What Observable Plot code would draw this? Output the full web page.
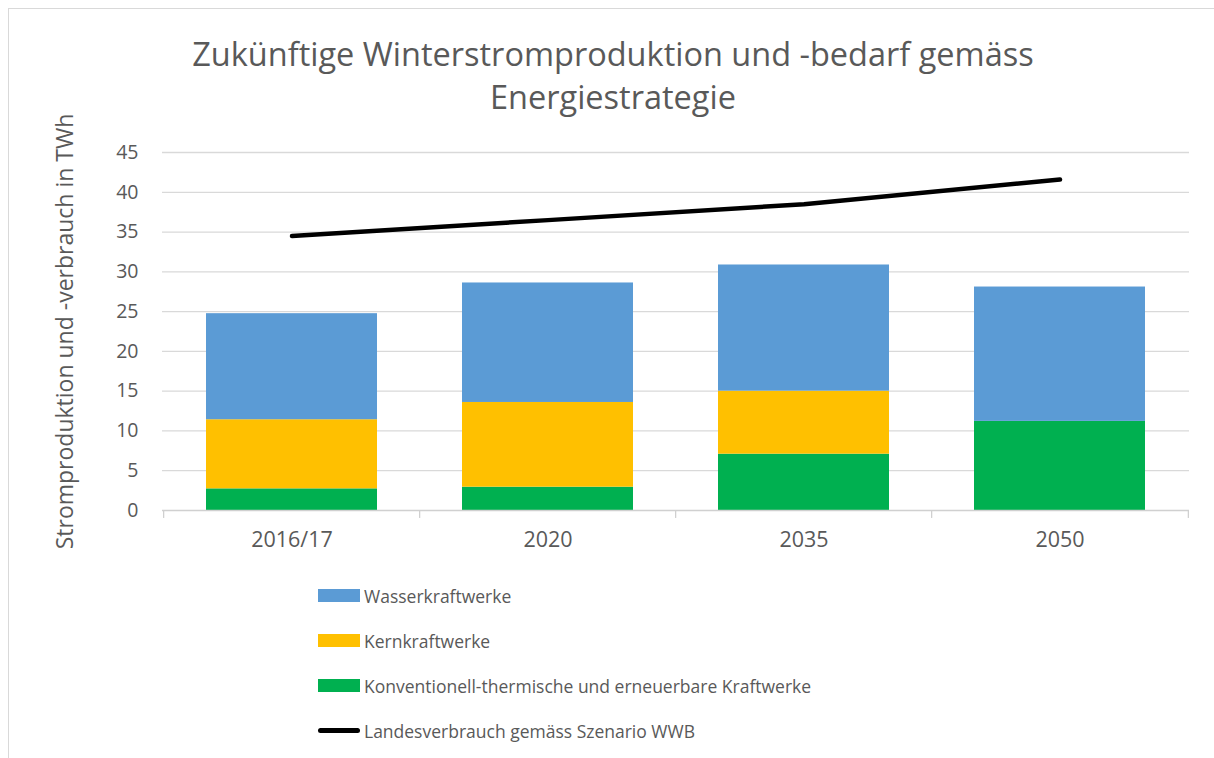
<!DOCTYPE html>
<html>
<head>
<meta charset="utf-8">
<script src="https://cdn.jsdelivr.net/npm/d3@7"></script>
<script src="https://cdn.jsdelivr.net/npm/@observablehq/plot@0.6"></script>
<style>
  html, body { margin: 0; padding: 0; background: #fff; }
  body { width: 1214px; height: 758px; position: relative; overflow: hidden; font-family: "Open Sans", sans-serif; color: #595959; }
  #frame { position: absolute; left: 8px; top: 8px; width: 1220px; height: 770px; border: 1.5px solid #d9d9d9; box-sizing: border-box; }
  #title { position: absolute; left: 0; width: 1226px; top: 32px; text-align: center; font-size: 32.5px; line-height: 43px; color: #595959; }
  #chart { position: absolute; left: 0; top: 130px; }
  #legend { position: absolute; left: 318px; top: 573px; }
  .row { display: flex; align-items: center; height: 45px; font-size: 17.5px; color: #595959; }
  .sw { width: 42px; height: 13px; margin-right: 4px; }
  .ln { width: 42px; height: 4.5px; border-radius: 3px; background: #000; margin-right: 4px; }
</style>
</head>
<body>
<div id="frame"></div>
<div id="title">Zukünftige Winterstromproduktion und -bedarf gemäss<br>Energiestrategie</div>
<div id="chart"></div>
<div id="legend"></div>
<script>
const categories = ["2016/17", "2020", "2035", "2050"];
const konventionell = [2.72, 2.93, 7.08, 11.2];
const kern = [8.69, 10.65, 7.92, 0];
const wasser = [13.33, 15.02, 15.86, 16.89];
const verbrauch = [34.5, 36.5, 38.5, 41.6];
const yTicks = [0, 5, 10, 15, 20, 25, 30, 35, 40, 45];
const yLabel = "Stromproduktion und -verbrauch in TWh";

const seriesNames = [
  "Konventionell-thermische und erneuerbare Kraftwerke",
  "Kernkraftwerke",
  "Wasserkraftwerke"
];
const seriesColors = ["#00B050", "#FFC000", "#5B9BD5"];
const seriesValues = [konventionell, kern, wasser];
const lineName = "Landesverbrauch gemäss Szenario WWB";

const barData = [];
seriesNames.forEach((s, i) => categories.forEach((c, j) => barData.push({cat: c, series: s, value: seriesValues[i][j]})));
const lineData = categories.map((c, j) => ({cat: c, value: verbrauch[j]}));

const W = 1214, H = 420, mL = 162, mR = 25, mT = 22, mB = 40;
const band = (W - mL - mR) / categories.length;

const chart = Plot.plot({
  width: W, height: H,
  marginLeft: mL, marginRight: mR, marginTop: mT, marginBottom: mB,
  style: {fontFamily: "Open Sans, sans-serif", fontSize: "19.5px", color: "#595959", background: "transparent", overflow: "visible"},
  x: {domain: categories, paddingInner: 0.333, paddingOuter: 0.1667, align: 0.5},
  y: {domain: [0, 45]},
  color: {domain: seriesNames, range: seriesColors},
  marks: [
    Plot.gridY(yTicks.filter(d => d > 0), {stroke: "#d9d9d9", strokeOpacity: 1, strokeWidth: 1.3}),
    Plot.barY(barData, {x: "cat", y: "value", fill: "series", order: seriesNames}),
    Plot.ruleY([0], {stroke: "#d0d0d0", strokeWidth: 1.3}),
    Plot.ruleX(categories, {x: d => d, y1: 0, y2: -1, dx: -band / 2, stroke: "#d0d0d0", strokeWidth: 1.3}),
    Plot.ruleX(categories.slice(-1), {x: d => d, y1: 0, y2: -1, dx: band / 2, stroke: "#d0d0d0", strokeWidth: 1.3}),
    Plot.line(lineData, {x: "cat", y: "value", stroke: "#000", strokeWidth: 4.5, strokeLinecap: "round", strokeLinejoin: "round"}),
    Plot.axisY({ticks: yTicks, tickSize: 0, tickPadding: 24, label: null, fontSize: 19.5}),
    Plot.axisY({ticks: [], tickSize: 0, label: yLabel, labelAnchor: "center", labelArrow: "none", labelOffset: 106, fontSize: 23}),
    Plot.axisX({tickSize: 0, tickPadding: 21, label: null, fontSize: 21.5})
  ]
});
document.getElementById("chart").appendChild(chart);

const legend = document.getElementById("legend");
const items = [
  {name: seriesNames[2], color: seriesColors[2]},
  {name: seriesNames[1], color: seriesColors[1]},
  {name: seriesNames[0], color: seriesColors[0]},
  {name: lineName, line: true}
];
items.forEach(it => {
  const row = document.createElement("div");
  row.className = "row";
  const sw = document.createElement("div");
  if (it.line) { sw.className = "ln"; } else { sw.className = "sw"; sw.style.background = it.color; }
  const t = document.createElement("span");
  t.textContent = it.name;
  row.appendChild(sw); row.appendChild(t);
  legend.appendChild(row);
});
</script>
</body>
</html>
